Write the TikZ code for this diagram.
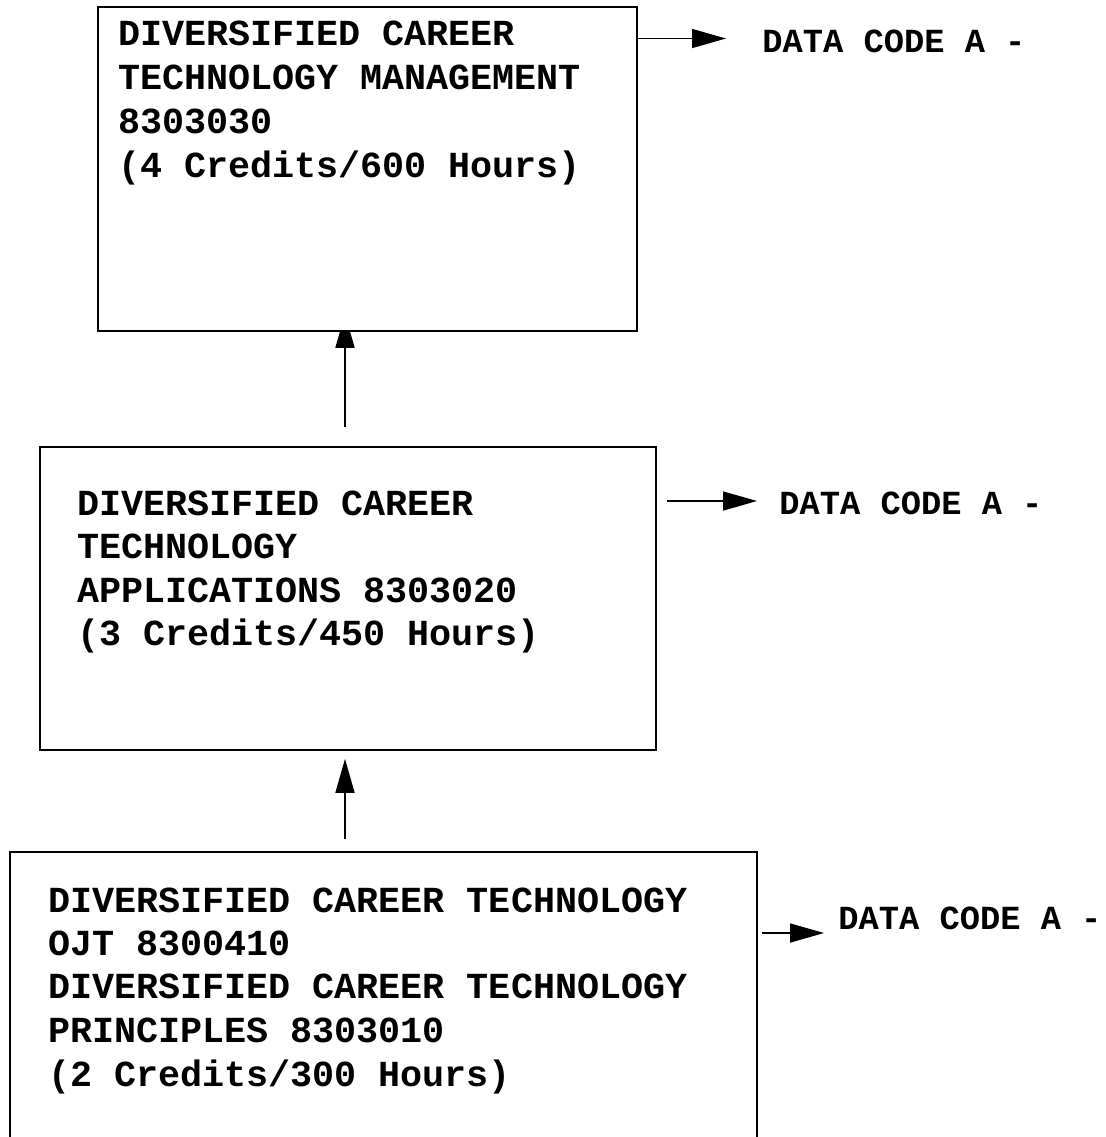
\documentclass[tikz,border=0pt]{standalone}
\usepackage{fontspec}
\setmonofont{Liberation Mono}
\usetikzlibrary{arrows.meta,backgrounds}

\begin{document}
\begin{tikzpicture}[
  x=0.02cm, y=-0.02cm,
  box/.style={draw, line width=1pt, fill=white, inner sep=0pt},
  arr/.style={-{Triangle[length=0.68cm, width=0.38cm]}, line width=0.9pt},
  lbl/.style={font=\ttfamily\bfseries\fontsize{20.9}{24.9}\selectfont, anchor=base west, inner sep=0pt},
  code/.style={font=\ttfamily\bfseries\fontsize{19.2}{23}\selectfont, anchor=base west, inner sep=0pt}
]

\useasboundingbox (0,0) rectangle (1106,1137);

% Course boxes
\node[box, minimum width=10.78cm, minimum height=6.48cm] (mgmt) at (367.5, 169) {};
\node[box, minimum width=12.32cm, minimum height=6.06cm] (apps) at (348, 598.5) {};
\node[box, minimum width=14.94cm, minimum height=7.96cm] (ojt) at (383.5, 1051) {};

% Management
\node[lbl] (mgmt1) at (118, 45) {DIVERSIFIED CAREER};
\node[lbl] (mgmt2) at (118, 89) {TECHNOLOGY MANAGEMENT};
\node[lbl] (mgmt3) at (118, 133) {8303030};
\node[lbl] (mgmt4) at (118, 177) {(4 Credits/600 Hours)};

% Applications
\node[lbl] (apps1) at (77, 515) {DIVERSIFIED CAREER};
\node[lbl] (apps2) at (77, 558) {TECHNOLOGY};
\node[lbl] (apps3) at (77, 602) {APPLICATIONS 8303020};
\node[lbl] (apps4) at (77, 645) {(3 Credits/450 Hours)};

% OJT / Principles
\node[lbl] (ojt1) at (48, 912) {DIVERSIFIED CAREER TECHNOLOGY};
\node[lbl] (ojt2) at (48, 955) {OJT 8300410};
\node[lbl] (ojt3) at (48, 998) {DIVERSIFIED CAREER TECHNOLOGY};
\node[lbl] (ojt4) at (48, 1042) {PRINCIPLES 8303010};
\node[lbl] (ojt5) at (48, 1086) {(2 Credits/300 Hours)};

% Data codes
\node[code] (codeA) at (762, 52.5) {DATA CODE A -};
\node[code] (codeB) at (779, 514) {DATA CODE A -};
\node[code] (codeC) at (838, 929) {DATA CODE A -};

% Side arrows
\coordinate (tipA) at (726, 38.5);
\draw[arr] (tipA -| mgmt.east) -- (tipA);
\coordinate (tailB) at (667, 501);
\coordinate (tipB) at (757, 501);
\draw[arr] (tailB) -- (tipB);
\coordinate (tipC) at (824, 933);
\draw[arr, shorten <=0.08cm] (tipC -| ojt.east) -- (tipC);

% Sequence arrows
\coordinate (up1) at (345, 427);
\coordinate (up2) at (345, 839);
\begin{pgfonlayer}{background}
\draw[arr, shorten >=-0.36cm] (up1) -- (up1 |- mgmt.south);
\end{pgfonlayer}
\draw[arr, shorten >=0.16cm] (up2) -- (up2 |- apps.south);

\end{tikzpicture}
\end{document}
